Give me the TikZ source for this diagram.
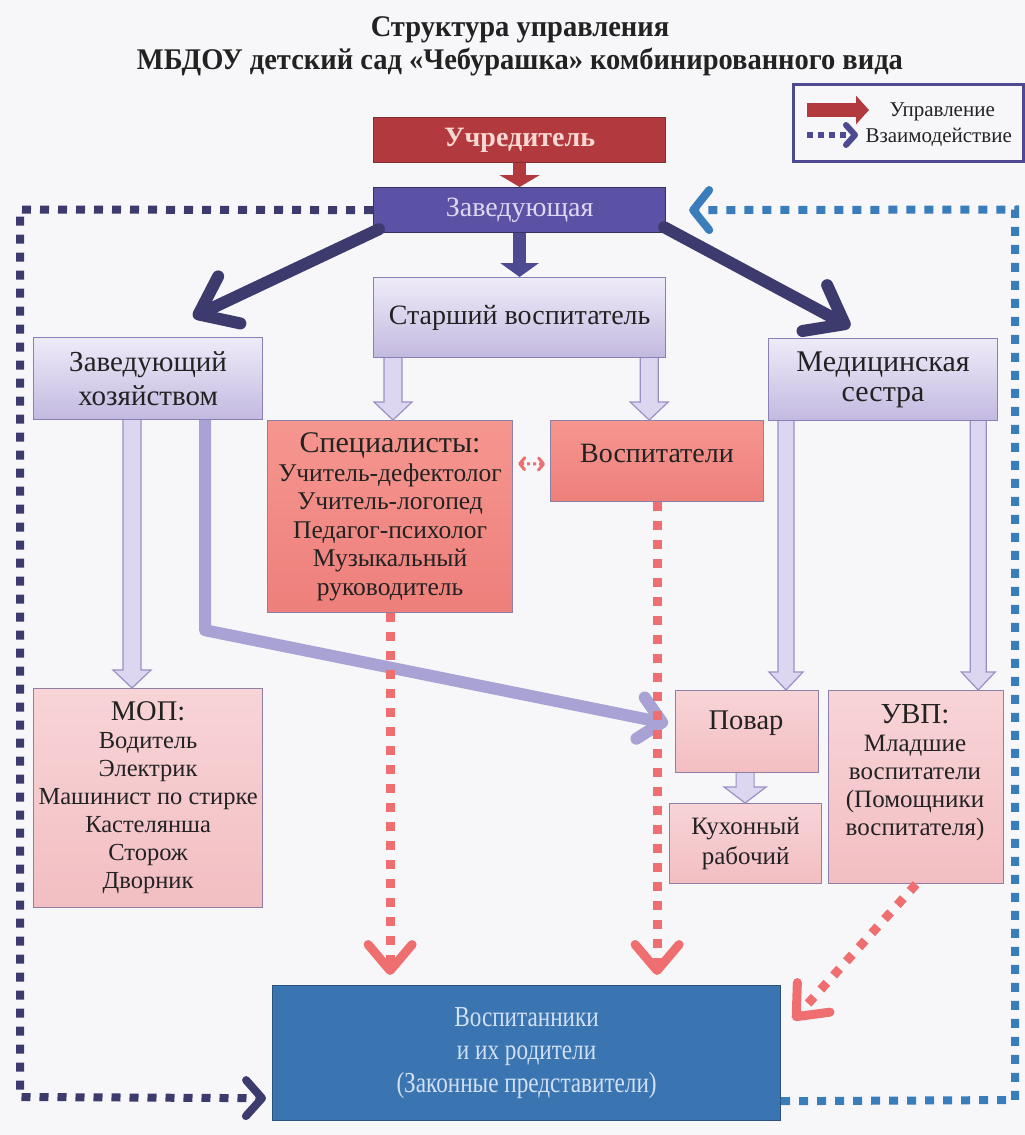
\documentclass[tikz,border=0pt]{standalone}
\usepackage{fontspec}
\setmainfont{Liberation Serif}
\newfontfamily\titlefont[FakeStretch=0.95]{Liberation Serif}
\newfontfamily\condfont[FakeStretch=0.80]{Liberation Serif}
\usetikzlibrary{arrows.meta,calc}

\definecolor{navy}{HTML}{3D3A6E}
\definecolor{navymid}{HTML}{4E4A92}
\definecolor{dotblue}{HTML}{3A7DBB}
\definecolor{dotpink}{HTML}{EF6F70}
\definecolor{lavT}{HTML}{EEEBF8}
\definecolor{lavB}{HTML}{C3B9E0}
\definecolor{lavD}{HTML}{8A80B8}
\definecolor{salT}{HTML}{F5968F}
\definecolor{salB}{HTML}{EE7F7B}
\definecolor{pinkT}{HTML}{F8D4D7}
\definecolor{pinkB}{HTML}{F2BEC2}
\definecolor{boxedge}{HTML}{8E7FA6}
\definecolor{uchr}{HTML}{B23A3F}
\definecolor{uchrtext}{HTML}{F8D8D2}
\definecolor{zav}{HTML}{5C52A5}
\definecolor{zavtext}{HTML}{DDD7F4}
\definecolor{vosp}{HTML}{3A75B2}
\definecolor{vosptext}{HTML}{D2E0F4}
\definecolor{arrowlav}{HTML}{A9A2D4}
\definecolor{hollowfill}{HTML}{DCD6F0}
\definecolor{hollowedge}{HTML}{9A90C4}
\definecolor{bg}{HTML}{F7F7F9}
\definecolor{ink}{HTML}{222222}

\newcommand\hollowdown[5]{%
  \fill[hollowfill] let \p1=(#1), \p2=(#2) in
    (\x1-#3pt,\y1) -- (\x1-#3pt,\y2+#5pt) -- (\x1-#4pt,\y2+#5pt) -- (\x1,\y2)
    -- (\x1+#4pt,\y2+#5pt) -- (\x1+#3pt,\y2+#5pt) -- (\x1+#3pt,\y1) -- cycle;
  \draw[hollowedge, line width=1.2pt, line join=miter] let \p1=(#1), \p2=(#2) in
    (\x1-#3pt,\y1) -- (\x1-#3pt,\y2+#5pt) -- (\x1-#4pt,\y2+#5pt) -- (\x1,\y2)
    -- (\x1+#4pt,\y2+#5pt) -- (\x1+#3pt,\y2+#5pt) -- (\x1+#3pt,\y1);}

\begin{document}
\begin{tikzpicture}[x=1pt, y=-1pt,
  wh/.style 2 args={minimum width=#1pt, minimum height=#2pt},
  box/.style={draw=boxedge, line width=1.2pt, anchor=north west, inner sep=2pt,
    align=center, text=ink, font=\fontsize{23}{29}\selectfont},
  lav/.style={box, top color=lavT, bottom color=lavB, draw=lavD},
  sal/.style={box, top color=salT, bottom color=salB},
  pnk/.style={box, top color=pinkT, bottom color=pinkB},
  txt/.style={text=ink, align=center, font=\fontsize{23}{29}\selectfont},
  dotline/.style={line width=8pt, dash pattern=on 9pt off 9pt},
  pdot/.style={dotpink, line width=9pt, dash pattern=on 9pt off 10pt,
    -{Straight Barb[round, length=26pt, width=44pt]}},
  thick arrow/.style={navy, line width=12pt, line cap=round,
    -{Straight Barb[round, length=34pt, width=52pt]}}
]
\fill[bg] (0,0) rectangle (1025,1135);
\useasboundingbox (0,0) rectangle (1025,1135);

% title
\node[font=\titlefont\bfseries\fontsize{30}{33}\selectfont, align=center, text=ink] (title) at (520,46)
  {Структура управления\\МБДОУ детский сад «Чебурашка» комбинированного вида};

% legend
\node[draw=navymid, line width=2.5pt, anchor=north west, wh={230}{77}] (leg) at (792,83) {};
\coordinate (l1a) at (807,110);
\coordinate (l1b) at (869,110);
\coordinate (l2a) at (807,135);
\coordinate (l2b) at (858,135);
\draw[uchr, line width=14pt, -{Triangle[length=13pt, width=28pt]}] (l1a) -- (l1b);
\draw[navymid, line width=6pt, dash pattern=on 6pt off 5pt, -{Straight Barb[round, length=9pt, width=20pt]}] (l2a) -- (l2b);
\node[anchor=west, txt, font=\fontsize{21}{24}\selectfont] (lt1) at (886,112) {Управление};
\node[anchor=west, txt, font=\fontsize{21}{24}\selectfont] (lt2) at (862,137) {Взаимодействие};

% main boxes
\node[box, fill=uchr, draw=uchr!75!black, wh={292}{45}, text=uchrtext,
  font=\bfseries\fontsize{28}{30}\selectfont] (uch) at (373,117) {Учредитель};
\node[box, fill=zav, draw=zav!60!black, wh={292}{45}, text=zavtext,
  font=\fontsize{28}{30}\selectfont] (zav) at (373,187) {Заведующая};
\node[lav, wh={292}{80}, font=\fontsize{28}{30}\selectfont] (sv) at (373,277) {Старший воспитатель};
\node[lav, wh={229}{82}, font=\fontsize{29}{34}\selectfont] (zh) at (33,337) {Заведующий\\хозяйством};
\node[lav, wh={229}{82}, font=\fontsize{30}{30}\selectfont] (ms) at (768,338) {Медицинская\\сестра};
\node[sal, wh={245}{192}, font=\fontsize{25.5}{28.5}\selectfont] (sp) at (267,420)
  {{\fontsize{30}{28.5}\selectfont Специалисты:}\\Учитель-дефектолог\\Учитель-логопед\\Педагог-психолог\\Музыкальный\\руководитель};
\node[sal, wh={213}{81}] (vs) at (550,420) {};
\node[txt, font=\fontsize{28}{30}\selectfont] (vs-t) at (657,453) {Воспитатели};
\node[pnk, wh={229}{219}, font=\fontsize{24.5}{28}\selectfont] (mop) at (33,688)
  {{\fontsize{28.5}{28}\selectfont МОП:}\\Водитель\\Электрик\\Машинист по стирке\\Кастелянша\\Сторож\\Дворник};
\node[pnk, wh={143}{82}] (pov) at (675,690) {};
\node[txt, font=\fontsize{28.5}{30}\selectfont] (pov-t) at (746,723) {Повар};
\node[pnk, wh={152}{80}, font=\fontsize{25}{30}\selectfont] (kux) at (669,803) {Кухонный\\рабочий};
\node[pnk, wh={175}{193}] (uvp) at (828,690) {};
\node[txt, font=\fontsize{25}{28}\selectfont] (uvp-t) at (915,773)
  {{\fontsize{29}{28}\selectfont УВП:}\\Младшие\\воспитатели\\(Помощники\\воспитателя)};
\node[box, fill=vosp, draw=vosp!70!black, wh={508}{135}, text=vosptext,
  font=\condfont\fontsize{29}{33}\selectfont] (vp) at (272,985)
  {Воспитанники\\и их родители\\(Законные представители)};

% control arrows
\draw[uchr, line width=13pt, -{Triangle[length=12pt, width=40pt]}] (uch.south) -- (zav.north);
\draw[navymid, line width=13pt, -{Triangle[length=14pt, width=38pt]}] (zav.south) -- (sv.north);
\draw[thick arrow] ($(zav.south west)+(6,-4)$) -- ($(zh.north)+(45,-20)$);
\draw[thick arrow] ($(zav.south east)+(-2,-6)$) -- ($(ms.north)+(-33,-11)$);

% hollow arrows
\hollowdown{$(sv.south west)+(20,0)$}{sp.north}{9}{19}{18}
\hollowdown{$(sv.south east)+(-17,0)$}{vs.north}{9}{19}{18}
\hollowdown{$(zh.south west)+(99,0)$}{mop.north}{9}{19}{18}
\hollowdown{$(ms.south west)+(18,0)$}{pov.north}{8}{17}{18}
\hollowdown{$(ms.south east)+(-20,0)$}{uvp.north}{8}{17}{18}
\hollowdown{$(pov.south)+(-2,0)$}{kux.north}{9}{21}{16}

% lavender bent arrow
\draw[arrowlav, line width=12pt, line join=round,
  -{Straight Barb[round, length=22pt, width=42pt]}]
  ($(zh.south west)+(172,0)$) -- ++(0,210) -- ($(pov.west)+(-7,-8)$);

% interaction (dotted) arrows
\draw[dotline, navy, -{Straight Barb[round, length=16pt, width=36pt]}]
  (zav.west) -- (20,209.5) -- (20,1097) -- ($(vp.south west)+(-6,-23)$);
\draw[dotline, dotblue, -{Straight Barb[round, length=16pt, width=40pt]}]
  ($(vp.south east)+(0,-20)$) -- (1015,1100) -- (1015,209.5) -- ($(zav.east)+(23,0)$);

\draw[pdot] (sp.south) -- ($(sp.south |- vp.north)+(0,-10)$);
\draw[pdot] (vs.south) -- ($(vs.south |- vp.north)+(0,-10)$);
\draw[pdot] (uvp.south) -- ($(vp.north east)+(12,35)$);
\draw[dotpink, line width=3pt, dash pattern=on 3pt off 3pt,
  {Straight Barb[round, length=5pt, width=12pt]}-{Straight Barb[round, length=5pt, width=12pt]}]
  ($(sp.east)+(5,-53)$) -- ($(vs.west)+(-5,3)$);
\end{tikzpicture}
\end{document}
